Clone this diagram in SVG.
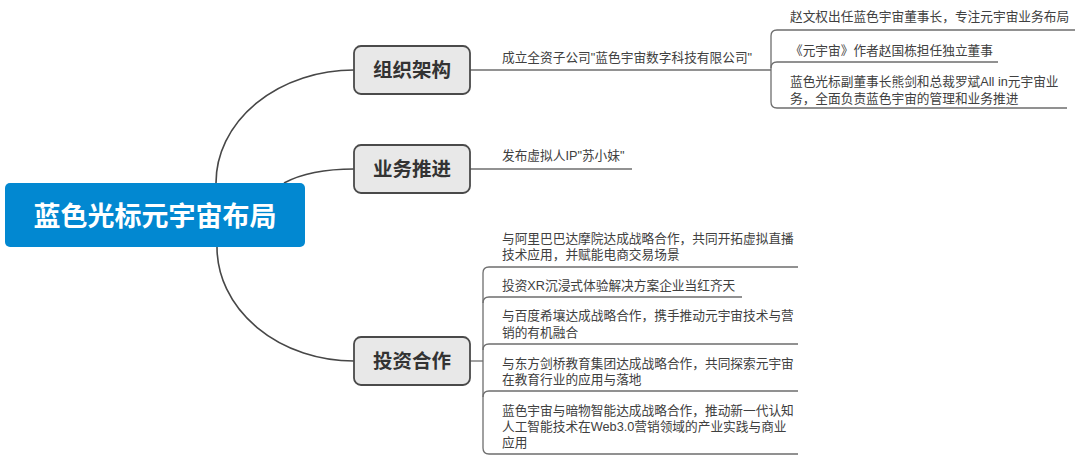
<svg xmlns="http://www.w3.org/2000/svg" width="1080" height="462" viewBox="0 0 1080 462">
<style>
.bg{fill:#ffffff}
.conn{fill:none;stroke:#474747;stroke-width:1.6}
.ul{fill:none;stroke:#6e6e6e;stroke-width:1.3}
.topic{fill:#e8e8e8;stroke:#4a4a4a;stroke-width:1.8}
.tt{font-family:"Noto Sans CJK SC","Noto Sans",sans-serif;font-weight:bold;font-size:19.5px;fill:#333333;text-anchor:middle}
.ct{font-family:"Noto Sans CJK SC","Noto Sans",sans-serif;font-weight:bold;font-size:27px;fill:#ffffff;text-anchor:middle}
.st{font-family:"Liberation Sans","Noto Sans CJK SC",sans-serif;font-size:12.7px;fill:#404040}
</style>
<rect class="bg" x="0" y="0" width="1080" height="462"/>
<g id="connectors">
<path class="conn" d="M216,183 A138,113 0 0 1 354,70"/>
<path class="conn" d="M284,183 Q310,169 354,169"/>
<path class="conn" d="M217,247 A137,114 0 0 0 354,361"/>
<path class="ul" d="M470,70 H771"/>
<path class="ul" d="M1075,30 H777 Q771,30 771,36 V102 Q771,108 777,108 H1067"/>
<path class="ul" d="M771,68 Q771,62 777,62 H998"/>
<path class="ul" d="M470,169 H632"/>
<path class="ul" d="M470,361 H483"/>
<path class="ul" d="M798,267 H489 Q483,267 483,273 V448 Q483,454 489,454 H798"/>
<path class="ul" d="M483,303 Q483,297 489,297 H742"/>
<path class="ul" d="M483,350 Q483,344 489,344 H798"/>
<path class="ul" d="M483,397 Q483,391 489,391 H798"/>
</g>
<g id="central">
<rect x="5" y="183" width="300" height="64" rx="5" fill="#0288d1"/>
<text class="ct" x="155" y="226">蓝色光标元宇宙布局</text>
</g>
<g id="node-org">
<rect class="topic" x="354" y="46" width="116" height="48" rx="7"/>
<text class="tt" x="412" y="77">组织架构</text>
</g>
<g id="node-biz">
<rect class="topic" x="354" y="145" width="116" height="48" rx="7"/>
<text class="tt" x="412" y="176">业务推进</text>
</g>
<g id="node-inv">
<rect class="topic" x="354" y="337" width="116" height="48" rx="7"/>
<text class="tt" x="412" y="368">投资合作</text>
</g>
<g id="org-sub">
<text class="st" x="502" y="62">成立全资子公司"蓝色宇宙数字科技有限公司"</text>
</g>
<g id="org-sub-1"><text class="st" x="790" y="21">赵文权出任蓝色宇宙董事长，专注元宇宙业务布局</text></g>
<g id="org-sub-2"><text class="st" x="790" y="55">《元宇宙》作者赵国栋担任独立董事</text></g>
<g id="org-sub-3"><text class="st" x="790" y="86">蓝色光标副董事长熊剑和总裁罗斌All in元宇宙业</text><text class="st" x="790" y="103">务，全面负责蓝色宇宙的管理和业务推进</text></g>
<g id="biz-sub"><text class="st" x="502" y="160">发布虚拟人IP"苏小妹"</text></g>
<g id="inv-1"><text class="st" x="502" y="243">与阿里巴巴达摩院达成战略合作，共同开拓虚拟直播</text><text class="st" x="502" y="259">技术应用，并赋能电商交易场景</text></g>
<g id="inv-2"><text class="st" x="502" y="290">投资XR沉浸式体验解决方案企业当红齐天</text></g>
<g id="inv-3"><text class="st" x="502" y="320">与百度希壤达成战略合作，携手推动元宇宙技术与营</text><text class="st" x="502" y="337">销的有机融合</text></g>
<g id="inv-4"><text class="st" x="502" y="368">与东方剑桥教育集团达成战略合作，共同探索元宇宙</text><text class="st" x="502" y="384">在教育行业的应用与落地</text></g>
<g id="inv-5"><text class="st" x="502" y="415">蓝色宇宙与暗物智能达成战略合作，推动新一代认知</text><text class="st" x="502" y="431">人工智能技术在Web3.0营销领域的产业实践与商业</text><text class="st" x="502" y="447">应用</text></g>
</svg>
